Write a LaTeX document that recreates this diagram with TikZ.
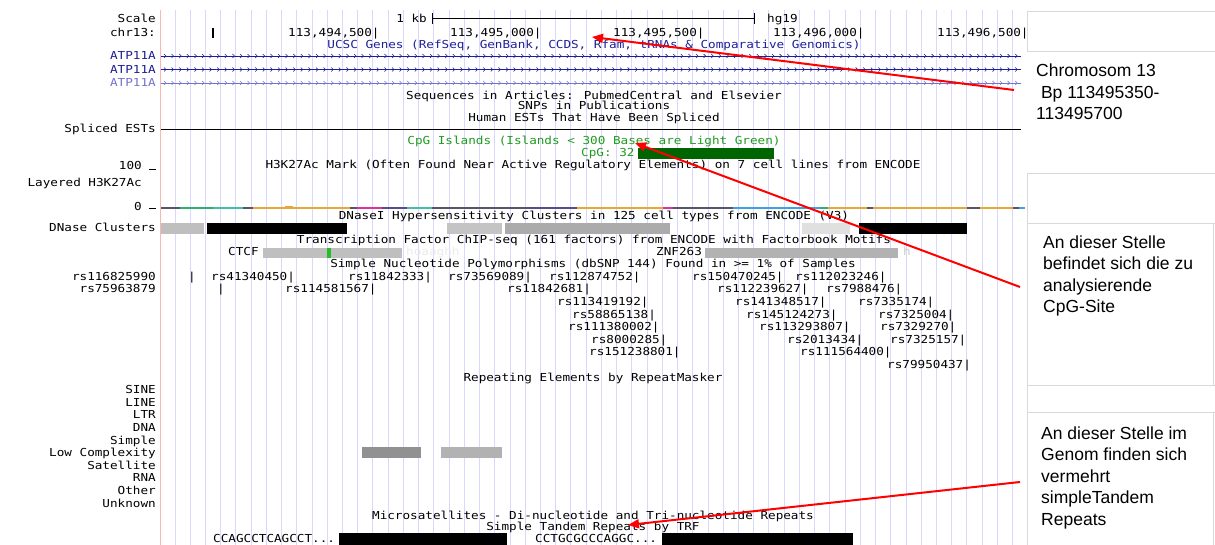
\documentclass[tikz,border=0pt]{standalone}
\usepackage{fontspec}
\setmainfont{Liberation Sans}
\newfontfamily\trk[FakeStretch=1.15]{DejaVu Sans Mono}
\usetikzlibrary{arrows.meta}
\definecolor{gridblue}{HTML}{D8D8FF}
\definecolor{edgered}{HTML}{FFB4B4}
\definecolor{genenavy}{HTML}{1E1E96}
\definecolor{genelight}{HTML}{7474CC}
\definecolor{cpgtext}{HTML}{1F9A1F}
\definecolor{cpgbar}{HTML}{006400}
\definecolor{notegray}{HTML}{D9D9D9}
\definecolor{sigbase}{HTML}{5A5468}
\definecolor{sigorange}{HTML}{E8A838}
\definecolor{siggreen}{HTML}{30B070}
\definecolor{sigteal}{HTML}{40C0A8}
\definecolor{sigpink}{HTML}{E030A0}
\definecolor{sigpurple}{HTML}{5A4A90}
\definecolor{sigblue}{HTML}{40A0E0}
\tikzset{
  trkfont/.style={font=\trk\fontsize{11}{12}\selectfont, inner sep=0pt},
  lbl/.style={trkfont, anchor=base east},
  ttl/.style={trkfont, anchor=base},
  itm/.style={trkfont, anchor=base west},
  notebox/.style={draw=notegray, line width=0.8pt},
  notetext/.style={font=\fontsize{17.5}{21.5}\selectfont, align=left, anchor=north west, inner sep=0pt},
  pointer/.style={draw=red, line width=2pt, -{Triangle[length=11pt,width=9pt]}},
}
\begin{document}
\begin{tikzpicture}[x=1pt,y=-1pt]
\useasboundingbox (0,0) rectangle (1215,545);
\fill[white] (0,0) rectangle (1215,545);

% browser grid
\foreach \k in {0,...,55} \draw[gridblue, line width=1pt] ({175+15.23*\k},10) -- ({175+15.23*\k},545);
\draw[edgered, line width=1pt] (160,10) -- (160,545);

% scale bar and coordinates
\node[lbl] (lScale) at (156,23) {Scale};
\node[lbl] (kb) at (427,23) {1 kb};
\coordinate (barL) at (432,18);
\coordinate (barR) at (754,18);
\draw[line width=0.8pt] (barL) -- (barR);
\draw[line width=1pt] (432,13) -- (432,24) (754,13) -- (754,24);
\node[itm] (hg) at (767,23) {hg19};
\node[lbl] (lchr) at (156,37) {chr13:};
\draw[line width=1.2pt] (213,28) -- (213,38);
\node[itm] (p1) at (288,37) {113,494,500|};
\node[itm] (p2) at (450,37) {113,495,000|};
\node[itm] (p3) at (613,37) {113,495,500|};
\node[itm] (p4) at (773,37) {113,496,000|};
\node[itm] (p5) at (937,37) {113,496,500|};

% genes
\node[ttl, text=genenavy] (ucsc) at (594,49) {UCSC Genes (RefSeq, GenBank, CCDS, Rfam, tRNAs \& Comparative Genomics)};
\foreach \y/\c/\n in {56/genenavy/ga,69.5/genenavy/gb,83/genelight/gc}{
  \node[lbl, text=\c] (\n) at (156,\y+4) {ATP11A};
  \draw[\c, line width=0.8pt] (161,\y) -- (1021,\y);
  \foreach \x in {166,173.6,...,1020}
    \draw[\c, line width=0.55pt] (\x-2,\y-2) -- (\x,\y) -- (\x-2,\y+2);
}

\node[ttl] (pubs) at (594,100) {Sequences in Articles: PubmedCentral and Elsevier};
\node[ttl] (snppub) at (594,110) {SNPs in Publications};
\node[ttl] (ests) at (594,122) {Human ESTs That Have Been Spliced};
\node[lbl] (lest) at (156,133) {Spliced ESTs};
\draw[line width=1.3pt] (161,129.3) -- (1021,129.3);

% CpG islands
\node[ttl, text=cpgtext] (cpgttl) at (594,145) {CpG Islands (Islands < 300 Bases are Light Green)};
\node[itm, text=cpgtext] (cpglbl) at (581,157) {CpG: 32};
\fill[cpgbar] (638,148) rectangle (774,159);

% H3K27Ac
\node[ttl] (h3) at (593,169) {H3K27Ac Mark (Often Found Near Active Regulatory Elements) on 7 cell lines from ENCODE};
\node[lbl] (l100) at (142,170) {100};
\draw[line width=0.8pt] (149,169.5) -- (156,169.5);
\node[lbl] (llay) at (142,187) {Layered H3K27Ac};
\node[lbl] (l0) at (142,211) {0};
\draw[line width=0.8pt] (149,208) -- (156,208);
\draw[sigbase, line width=2pt] (161,208.4) -- (1025,208.4);
\foreach \a/\b/\col in {180/213/siggreen,213/243/sigteal,253/350/sigorange,357/382/sigpink,382/407/sigpurple,407/432/sigteal,527/577/sigpurple,577/663/sigorange,663/673/sigpink,733/820/sigblue,820/828/siggreen,828/867/sigorange,873/967/sigorange,980/1013/sigorange,1019/1025/sigblue}{
  \draw[draw=\col, line width=1.5pt] (\a,207.9) -- (\b,207.9);
}
\draw[sigorange, line width=1.6pt] (285,206.6) -- (293,206.6);

% DNase clusters
\node[ttl] (dnase) at (594,220) {DNaseI Hypersensitivity Clusters in 125 cell types from ENCODE (V3)};
\node[lbl] (ldnase) at (156,232) {DNase Clusters};
\fill[black!25] (161,222.7) rectangle (204,234);
\fill[black] (207,222.7) rectangle (347,234);
\fill[black!23] (447,222.7) rectangle (502,234);
\fill[black!33] (505,222.7) rectangle (670,234);
\fill[black!12] (802,222.7) rectangle (850,234);
\fill[black] (859,222.7) rectangle (967,234);

% transcription factors
\node[ttl] (tfbs) at (594,244) {Transcription Factor ChIP-seq (161 factors) from ENCODE with Factorbook Motifs};
\node[itm] (ctcf) at (228,256) {CTCF};
\fill[black!25] (263,247.7) rectangle (402,257.7);
\fill[green!70!black!85] (327,247.7) rectangle (331,257.7);
\node[itm, text=black!8] (ctcfm) at (406,256) {hoaaghh};
\node[itm] (znf) at (656,256) {ZNF263};
\fill[black!30] (705,247.7) rectangle (898,257.7);
\node[itm, text=black!20] (znfm) at (903,256) {h};

% SNPs
\node[ttl] (snps) at (593,268) {Simple Nucleotide Polymorphisms (dbSNP 144) Found in >= 1\% of Samples};
\node[lbl] (l1) at (156,281) {rs116825990};
\node[lbl] (l2) at (156,293) {rs75963879};
\node[ttl] (t1) at (192,281) {|};
\node[ttl] (t2) at (221,293) {|};
\foreach \x/\y/\n in {
  211/281/rs41340450, 348/281/rs11842333, 448/281/rs73569089, 549/281/rs112874752, 692/281/rs150470245, 795/281/rs112023246,
  285/293/rs114581567, 507/293/rs11842681, 717/293/rs112239627, 826/293/rs7988476,
  557/305.7/rs113419192, 735/305.7/rs141348517, 858/305.7/rs7335174,
  572/318/rs58865138, 746/318/rs145124273, 878/318/rs7325004,
  568/330.7/rs111380002, 759/330.7/rs113293807, 880/330.7/rs7329270,
  591/343.3/rs8000285, 787/343.3/rs2013434, 890/343.3/rs7325157,
  589/355.7/rs151238801, 800/355.7/rs111564400,
  887/368.3/rs79950437}
  \node[itm] (\n) at (\x,\y) {\n|};

% repeats
\node[ttl] (rmsk) at (593,381) {Repeating Elements by RepeatMasker};
\foreach \y/\t in {389/SINE, 402/LINE, 414/LTR, 427/DNA, 440/Simple, 452/Low Complexity, 465/Satellite, 477/RNA, 490/Other, 503/Unknown}
  \node[lbl] at (156,\y+4) {\t};
\fill[black!43] (362,447) rectangle (421,458);
\fill[black!30] (441,447) rectangle (502,458);

% microsatellites and tandem repeats
\node[ttl] (micro) at (593,519.7) {Microsatellites - Di-nucleotide and Tri-nucleotide Repeats};
\node[ttl] (trf) at (593,530.7) {Simple Tandem Repeats by TRF};
\node[itm] (trf1) at (213,542.3) {CCAGCCTCAGCCT...};
\fill[black] (339,532.7) rectangle (507,545);
\node[itm] (trf2) at (535,542.3) {CCTGCGCCCAGGC...};
\fill[black] (662,532.7) rectangle (853,545);

% side notes
\draw[notebox] (1027,11.5) rectangle (1216,51.5);
\draw[notebox] (1027,173) rectangle (1216,223);
\draw[notebox] (1027,223) rectangle (1213,385);
\draw[notebox] (1027,385) rectangle (1216,412);
\draw[notebox] (1027,412) rectangle (1213,546);
\node[notetext] (n1) at (1036,64) {Chromosom 13\\\ Bp 113495350-\\113495700};
\node[notetext] (n2) at (1043,235.5) {An dieser Stelle\\befindet sich die zu\\analysierende\\CpG-Site};
\node[notetext] (n3) at (1041,426.5) {An dieser Stelle im\\Genom finden sich\\vermehrt\\simpleTandem\\Repeats};

% pointers
\coordinate (s1) at (1014,90);
\coordinate (e1) at (592,37);
\coordinate (s2) at (1020,287);
\coordinate (e2) at (635,143);
\coordinate (s3) at (1020,482);
\coordinate (e3) at (628,525);
\draw[pointer] (s1) -- (e1);
\draw[pointer] (s2) -- (e2);
\draw[pointer] (s3) -- (e3);
\end{tikzpicture}
\end{document}
